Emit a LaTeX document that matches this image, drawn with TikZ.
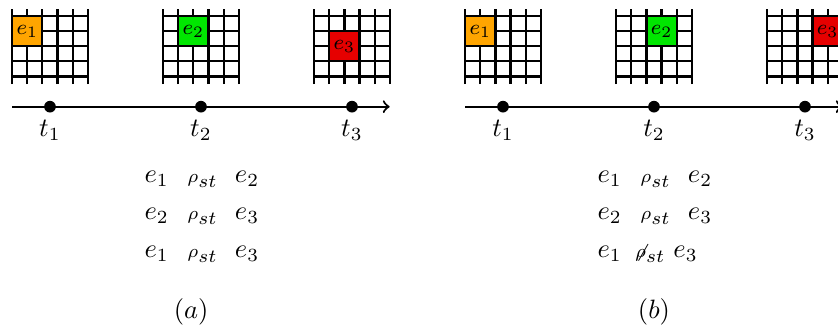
\documentclass[tikz,border=0pt]{standalone}
\usepackage{tikz}
\usetikzlibrary{positioning}
\usepackage{amsmath, amssymb}
\usepackage{xcolor}
\definecolor{cellorange}{HTML}{FFA500}
\definecolor{cellgreen}{HTML}{00E600}
\definecolor{cellred}{HTML}{E60000}

\begin{document}
\begin{tikzpicture}[
      gridline/.style={thick},
      cellbox/.style={draw, thick, minimum size=0.4cm, inner sep=0pt, font=\footnotesize},
      dot/.style={circle, fill=black, inner sep=0pt, minimum size=4.4pt},
      axis/.style={thick},
      relrow/.style={anchor=base west},
      caption/.style={anchor=base},
    ]
    \useasboundingbox (-0.662,-2.905) rectangle (10.437,1.413);

    \foreach \gx in {0,2,4,6,8,10} {
      \foreach \i in {0,...,5}
        \draw[gridline] (\gx-0.5+0.2*\i,0.3) -- ++(0,1);
      \foreach \j in {0,...,4}
        \draw[gridline] (\gx-0.5,0.4+0.2*\j) -- ++(1,0);
    }

    % panel (a)
    \node[cellbox, fill=cellorange] (e1a) at (-0.3,1.0) {$e_1$};
    \node[cellbox, fill=cellgreen] (e2a) at (1.9,1.0) {$e_2$};
    \node[cellbox, fill=cellred] (e3a) at (3.9,0.8) {$e_3$};

    \coordinate (starta) at (-0.5,0);
    \coordinate (enda) at (4.5,0);
    \draw[axis, ->] (starta) -- (enda);
    \node[dot] (t1a) at (0,0) {};
    \node[dot] (t2a) at (2,0) {};
    \node[dot] (t3a) at (4,0) {};
    \node[below=-1pt of t1a] (lt1a) {$t_1$};
    \node[below=-1pt of t2a] (lt2a) {$t_2$};
    \node[below=-1pt of t3a] (lt3a) {$t_3$};

    \node[relrow] (r1a) at (1.128,-1.0) {$e_1\hspace{7pt}{\scriptstyle\rho_{\scriptstyle st}}\hspace{6.5pt}e_2$};
    \node[relrow] (r2a) at (1.128,-1.5) {$e_2\hspace{7pt}{\scriptstyle\rho_{\scriptstyle st}}\hspace{6.5pt}e_3$};
    \node[relrow] (r3a) at (1.128,-2.0) {$e_1\hspace{7pt}{\scriptstyle\rho_{\scriptstyle st}}\hspace{6.5pt}e_3$};
    \node[caption] (capa) at (1.87,-2.8) {$(a)$};

    % panel (b)
    \node[cellbox, fill=cellorange] (e1b) at (5.7,1.0) {$e_1$};
    \node[cellbox, fill=cellgreen] (e2b) at (8.1,1.0) {$e_2$};
    \node[cellbox, fill=cellred] (e3b) at (10.3,1.0) {$e_3$};

    \coordinate (startb) at (5.5,0);
    \coordinate (endb) at (10.5,0);
    \draw[axis, ->] (startb) -- (endb);
    \node[dot] (t1b) at (6,0) {};
    \node[dot] (t2b) at (8,0) {};
    \node[dot] (t3b) at (10,0) {};
    \node[below=-1pt of t1b] (lt1b) {$t_1$};
    \node[below=-1pt of t2b] (lt2b) {$t_2$};
    \node[below=-1pt of t3b] (lt3b) {$t_3$};

    \node[relrow] (r1b) at (7.128,-1.0) {$e_1\hspace{7pt}{\scriptstyle\rho_{\scriptstyle st}}\hspace{6.5pt}e_2$};
    \node[relrow] (r2b) at (7.128,-1.5) {$e_2\hspace{7pt}{\scriptstyle\rho_{\scriptstyle st}}\hspace{6.5pt}e_3$};
    \node[relrow] (r3b) at (7.128,-2.0) {$e_1\hspace{5pt}{\scriptstyle\not\rho_{\scriptstyle st}}\hspace{3pt}e_3$};
    \node[caption] (capb) at (8.0,-2.8) {$(b)$};
\end{tikzpicture}
\end{document}
